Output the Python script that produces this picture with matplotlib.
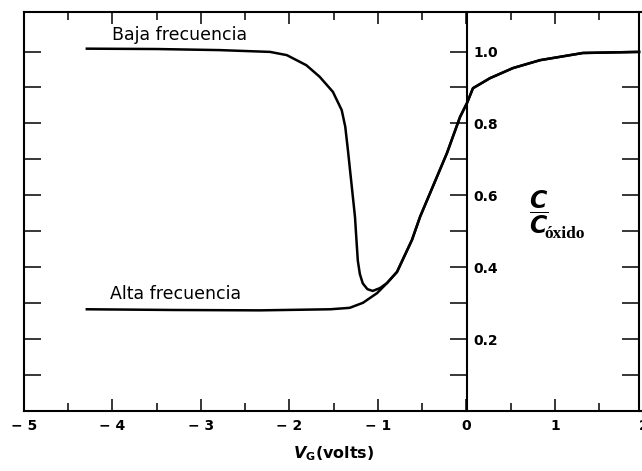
import numpy as np
import matplotlib
matplotlib.use("Agg")
import matplotlib.pyplot as plt
from matplotlib.ticker import FixedLocator

# Curva C/Cox vs VG (capacitor MOS), valores leidos de la figura
# tramo de baja frecuencia (hasta el minimo)
vg_baja = [-4.29, -3.50, -2.79, -2.22, -2.03, -1.81, -1.66, -1.51, -1.41, -1.37,
           -1.34, -1.30, -1.26, -1.242, -1.228, -1.205, -1.172, -1.120, -1.060, -0.977]
c_baja = [1.008, 1.007, 1.004, 0.999, 0.990, 0.962, 0.930, 0.888, 0.837, 0.791,
          0.726, 0.633, 0.540, 0.470, 0.418, 0.381, 0.355, 0.339, 0.334, 0.342]

# tramo de alta frecuencia (plano)
vg_alta = [-4.29, -3.30, -2.33, -1.54, -1.32, -1.17, -1.01]
c_alta = [0.283, 0.281, 0.280, 0.283, 0.287, 0.301, 0.328]

# tramo comun a las dos curvas (subida hacia 1.0)
vg_comun = [-0.898, -0.785, -0.616, -0.525, -0.412, -0.220, -0.073, 0.006, 0.073,
            0.266, 0.525, 0.831, 1.316, 1.95]
c_comun = [0.356, 0.387, 0.476, 0.540, 0.606, 0.718, 0.818, 0.857, 0.898,
           0.926, 0.954, 0.976, 0.996, 0.999]

xticks = [-5, -4, -3, -2, -1, 0, 1, 2]
xlabels = ['\u2212 5', '\u2212 4', '\u2212 3', '\u2212 2', '\u2212 1', '0', '1', '2']
xminor = [-4.5, -3.5, -2.5, -1.5, -0.5, 0.5, 1.5]
yticks_c = [0.2, 0.4, 0.6, 0.8, 1.0]
ylabels_c = ['0.2', '0.4', '0.6', '0.8', '1.0']
yminor = [0.1, 0.3, 0.5, 0.7, 0.9]

plt.rcParams['mathtext.fontset'] = 'custom'
plt.rcParams['mathtext.it'] = 'DejaVu Sans:bold:italic'
plt.rcParams['mathtext.bf'] = 'DejaVu Sans:bold'

fig = plt.figure(figsize=(6.42, 4.71), dpi=100)
ax = fig.add_axes([24/642, 60/471, (643.5-24)/642, 399/471])

x_b = np.concatenate([vg_baja, vg_comun])
y_b = np.concatenate([c_baja, c_comun])
x_a = np.concatenate([vg_alta, vg_comun])
y_a = np.concatenate([c_alta, c_comun])
ax.plot(x_b, y_b, color='black', lw=1.8, solid_joinstyle='round')
ax.plot(x_a, y_a, color='black', lw=1.8, solid_joinstyle='round')

ax.set_xlim(-5, 2)
ax.set_ylim(0, 1.11)
ax.spines['right'].set_position(('data', 1.95))
for s in ax.spines.values():
    s.set_linewidth(1.5)

ax.set_xticks(xticks)
ax.set_xticklabels(xlabels, fontweight='bold', fontsize=10)
ax.xaxis.set_minor_locator(FixedLocator(xminor))
ax.tick_params(axis='x', which='major', direction='in', length=8.5, width=1.1,
               top=True, bottom=True, pad=6)
ax.tick_params(axis='x', which='minor', direction='in', length=5.5, width=1.1,
               top=True, bottom=True)

ax.set_yticks(yticks_c)
ax.yaxis.set_minor_locator(FixedLocator(yminor))
ax.tick_params(axis='y', which='both', direction='in', length=12, width=1.1,
               left=True, right=True, labelleft=False, labelright=False)

# eje central en VG = 0, con etiquetas a la derecha
sec = ax.secondary_yaxis(0, transform=ax.transData)
sec.set_alignment('right')
sec.set_yticks(yticks_c)
sec.set_yticklabels(ylabels_c, fontweight='bold', fontsize=10)
sec.yaxis.set_minor_locator(FixedLocator(yminor))
sec.tick_params(which='both', direction='in', length=12, width=1.1, pad=5)
for s in sec.spines.values():
    s.set_linewidth(1.5)

ax.text(-4.006, 1.046, 'Baja frecuencia', fontsize=12.5, va='center', ha='left')
ax.text(-4.028, 0.325, 'Alta frecuencia', fontsize=12.5, va='center', ha='left')

ax.text(0.81, 0.553, r'$\dfrac{\mathit{C}}{\mathit{C}}$', fontsize=17,
        ha='center', va='center')
ax.text(0.875, 0.482, 'óxido', fontsize=12.5, fontweight='bold',
        family='Liberation Serif', ha='left', va='baseline')

ax.set_xlabel(r'$\mathit{V}_{\mathbf{G}}$(volts)', fontsize=11.5,
              fontweight='bold', labelpad=8)

fig.savefig('out.png', dpi=100)
